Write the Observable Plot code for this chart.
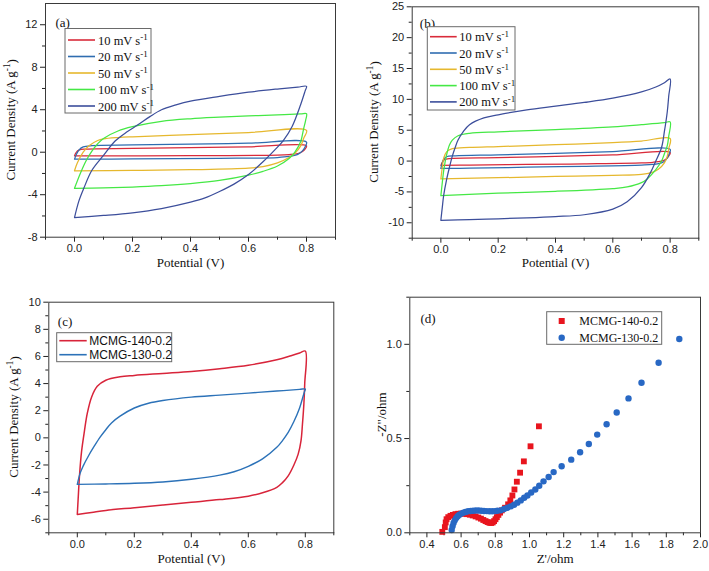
<!DOCTYPE html>
<html><head><meta charset="utf-8">
<script src="https://cdn.jsdelivr.net/npm/d3@7"></script>
<script src="https://cdn.jsdelivr.net/npm/@observablehq/plot@0.6"></script>
<style>
html,body{margin:0;padding:0;background:#fff;}
#fig{position:relative;width:709px;height:571px;overflow:hidden;background:#fff;}
#fig > svg{position:absolute;}
</style></head><body><div id="fig"></div>
<script>
// ---------- data (potential V, current density A/g) ----------
const a10F = [[0,-0.35],[0.005,-0.05],[0.015,0.2],[0.04,0.3],[0.2,0.36],[0.4,0.43],[0.6,0.51],[0.8,0.6]];
const a10R = [[0.8,0.6],[0.795,0.3],[0.785,0.05],[0.77,-0.12],[0.74,-0.22],[0.7,-0.27],[0.4,-0.32],[0,-0.35]];
const a20F = [[0,-0.66],[0.005,-0.3],[0.015,0.2],[0.03,0.5],[0.06,0.62],[0.2,0.68],[0.4,0.76],[0.6,0.85],[0.8,0.95]];
const a20R = [[0.8,0.95],[0.795,0.5],[0.785,0.1],[0.77,-0.2],[0.74,-0.4],[0.7,-0.5],[0.5,-0.58],[0.2,-0.63],[0,-0.66]];
const a50F = [[0,-1.75],[0.01,-1.0],[0.03,0.0],[0.05,0.6],[0.08,1.1],[0.1,1.25],[0.15,1.38],[0.2,1.45],[0.4,1.65],[0.6,1.85],[0.8,2.05]];
const a50R = [[0.8,2.05],[0.79,1.3],[0.78,0.6],[0.76,-0.1],[0.74,-0.5],[0.7,-1.0],[0.65,-1.35],[0.6,-1.5],[0.4,-1.65],[0.2,-1.72],[0,-1.75]];
const a100F = [[0,-3.4],[0.02,-2.0],[0.04,-0.8],[0.06,0.1],[0.08,0.8],[0.1,1.3],[0.15,2.0],[0.2,2.4],[0.3,2.9],[0.4,3.15],[0.5,3.3],[0.6,3.42],[0.7,3.52],[0.78,3.6],[0.8,3.62]];
const a100R = [[0.8,3.62],[0.797,3.0],[0.79,2.2],[0.78,1.0],[0.76,0.0],[0.74,-0.6],[0.7,-1.3],[0.65,-1.8],[0.6,-2.15],[0.5,-2.65],[0.4,-2.95],[0.3,-3.15],[0.2,-3.28],[0.1,-3.36],[0,-3.4]];
const a200F = [[0,-6.15],[0.015,-4.6],[0.032,-3.4],[0.06,-1.7],[0.1,-0.3],[0.14,1.05],[0.18,1.9],[0.22,2.6],[0.26,3.35],[0.3,4.0],[0.35,4.45],[0.4,4.8],[0.5,5.25],[0.6,5.65],[0.7,5.95],[0.77,6.13],[0.8,6.2]];
const a200R = [[0.8,6.2],[0.795,5.75],[0.78,4.5],[0.75,2.4],[0.72,1.1],[0.69,0.2],[0.65,-0.9],[0.6,-2.1],[0.55,-3.0],[0.5,-3.7],[0.45,-4.3],[0.4,-4.7],[0.3,-5.3],[0.2,-5.7],[0.1,-5.95],[0,-6.15]];

const b10F = [[0,-0.7],[0.005,-0.2],[0.012,0.2],[0.03,0.4],[0.2,0.55],[0.4,0.75],[0.6,1.0],[0.8,1.4]];
const b10R = [[0.8,1.4],[0.795,0.8],[0.785,0.3],[0.77,0.0],[0.74,-0.2],[0.7,-0.3],[0.5,-0.45],[0.3,-0.55],[0.1,-0.65],[0,-0.7]];
const b20F = [[0,-1.2],[0.005,-0.3],[0.01,0.3],[0.02,0.7],[0.05,0.85],[0.2,1.0],[0.4,1.25],[0.6,1.55],[0.8,1.9]];
const b20R = [[0.8,1.9],[0.795,1.0],[0.785,0.2],[0.77,-0.3],[0.74,-0.55],[0.7,-0.65],[0.5,-0.85],[0.3,-1.0],[0.1,-1.15],[0,-1.2]];
const b50F = [[0,-2.9],[0.005,-1.0],[0.01,0.5],[0.02,1.5],[0.04,2.0],[0.1,2.2],[0.2,2.35],[0.4,2.65],[0.6,3.0],[0.7,3.25],[0.8,3.65]];
const b50R = [[0.8,3.65],[0.795,2.0],[0.79,0.8],[0.78,-0.3],[0.76,-1.3],[0.74,-1.8],[0.7,-2.15],[0.6,-2.3],[0.4,-2.5],[0.2,-2.7],[0,-2.9]];
const b100F = [[0,-5.6],[0.005,-3.5],[0.01,-1.5],[0.02,1.0],[0.03,2.6],[0.04,3.4],[0.06,4.1],[0.1,4.5],[0.2,4.75],[0.4,5.1],[0.6,5.55],[0.7,5.9],[0.78,6.22],[0.8,6.35]];
const b100R = [[0.8,6.35],[0.795,4.0],[0.79,2.5],[0.78,1.2],[0.77,0.0],[0.75,-1.4],[0.72,-2.9],[0.7,-3.5],[0.65,-4.2],[0.6,-4.45],[0.4,-4.9],[0.2,-5.2],[0,-5.6]];
const b200F = [[0,-9.6],[0.005,-7.5],[0.01,-5.5],[0.02,-3.0],[0.03,-1.0],[0.04,0.8],[0.05,2.2],[0.06,3.4],[0.08,4.9],[0.1,5.9],[0.15,7.0],[0.2,7.5],[0.3,8.3],[0.4,8.9],[0.5,9.5],[0.6,10.2],[0.7,11.2],[0.75,12.0],[0.78,12.7],[0.8,13.3]];
const b200R = [[0.8,13.3],[0.795,10.5],[0.79,8.0],[0.78,4.8],[0.77,2.2],[0.75,0.0],[0.73,-2.0],[0.7,-4.3],[0.65,-6.6],[0.6,-7.8],[0.5,-8.7],[0.4,-9.0],[0.3,-9.2],[0.2,-9.35],[0.1,-9.5],[0,-9.6]];

const c140F = [[0,-5.65],[0.003,-4.5],[0.008,-2.7],[0.015,-1.0],[0.025,0.5],[0.035,1.8],[0.05,3.0],[0.07,3.8],[0.1,4.25],[0.15,4.5],[0.2,4.6],[0.3,4.75],[0.4,4.9],[0.5,5.1],[0.6,5.35],[0.7,5.75],[0.75,6.05],[0.78,6.25],[0.8,6.4]];
const c140R = [[0.8,6.4],[0.798,4.0],[0.795,2.5],[0.79,1.0],[0.785,-0.2],[0.775,-1.2],[0.76,-2.0],[0.74,-2.8],[0.72,-3.3],[0.7,-3.65],[0.65,-4.05],[0.6,-4.3],[0.5,-4.55],[0.4,-4.75],[0.3,-4.95],[0.2,-5.15],[0.1,-5.35],[0.05,-5.5],[0,-5.65]];
const c130F = [[0,-3.43],[0.01,-2.6],[0.02,-2.1],[0.04,-1.3],[0.06,-0.6],[0.08,0.05],[0.1,0.6],[0.12,1.1],[0.15,1.6],[0.2,2.2],[0.25,2.55],[0.3,2.75],[0.4,3.0],[0.5,3.15],[0.6,3.3],[0.7,3.45],[0.78,3.57],[0.8,3.6]];
const c130R = [[0.8,3.6],[0.797,3.4],[0.79,2.9],[0.78,2.2],[0.76,1.2],[0.74,0.4],[0.72,-0.2],[0.7,-0.7],[0.65,-1.55],[0.6,-2.1],[0.55,-2.5],[0.5,-2.75],[0.4,-3.05],[0.3,-3.25],[0.2,-3.35],[0.1,-3.4],[0,-3.43]];

// Nyquist (Z', -Z'')
const d140 = [[0.49,0.005],[0.505,0.03],[0.51,0.055],[0.515,0.072],[0.525,0.083],[0.538,0.09],[0.552,0.095],[0.567,0.099],[0.583,0.101],[0.6,0.102],[0.617,0.101],[0.634,0.099],[0.651,0.096],[0.668,0.092],[0.685,0.087],[0.701,0.081],[0.716,0.075],[0.73,0.068],[0.743,0.062],[0.755,0.057],[0.766,0.053],[0.776,0.052],[0.785,0.055],[0.793,0.062],[0.801,0.072],[0.809,0.083],[0.818,0.095],[0.828,0.107],[0.838,0.119],[0.857,0.133],[0.875,0.151],[0.888,0.172],[0.9,0.198],[0.912,0.23],[0.926,0.271],[0.945,0.319],[0.967,0.379],[1.006,0.459],[1.055,0.565]];
const d130 = [[0.545,0.015],[0.55,0.035],[0.556,0.052],[0.563,0.066],[0.571,0.078],[0.58,0.088],[0.59,0.096],[0.601,0.102],[0.613,0.107],[0.626,0.111],[0.64,0.114],[0.655,0.116],[0.67,0.117],[0.686,0.118],[0.702,0.118],[0.718,0.117],[0.734,0.116],[0.75,0.115],[0.766,0.114],[0.782,0.114],[0.797,0.115],[0.812,0.117],[0.832,0.119],[0.851,0.126],[0.871,0.133],[0.89,0.14],[0.91,0.149],[0.929,0.16],[0.949,0.172],[0.969,0.186],[0.988,0.198],[1.01,0.214],[1.034,0.23],[1.057,0.25],[1.082,0.273],[1.112,0.296],[1.141,0.322],[1.188,0.353],[1.244,0.388],[1.296,0.427],[1.347,0.471],[1.396,0.521],[1.451,0.576],[1.51,0.638],[1.579,0.713],[1.655,0.796],[1.755,0.902],[1.876,1.028]];

const rateLabels = ["10 mV s", "20 mV s", "50 mV s", "100 mV s", "200 mV s"];
const rateColors = ["#d92b3a", "#2f6db0", "#e6b82e", "#45e845", "#3c4e9b"];
const sampleLabels = ["MCMG-140-0.2", "MCMG-130-0.2"];
const cvColors = ["#d8243a", "#2c72b8"];
const eisColors = ["#e8151e", "#2868c4"];

const cvXTicks = [0, 0.2, 0.4, 0.6, 0.8];
const cvXMinor = [-0.1, 0.1, 0.3, 0.5, 0.7, 0.9];
const aYTicks = [-8, -4, 0, 4, 8, 12];
const aYMinor = [-6, -2, 2, 6, 10];
const bYTicks = [-10, -5, 0, 5, 10, 15, 20, 25];
const bYMinor = [-12.5, -7.5, -2.5, 2.5, 7.5, 12.5, 17.5, 22.5];
const cYTicks = [-6, -4, -2, 0, 2, 4, 6, 8, 10];
const cYMinor = [-7, -5, -3, -1, 1, 3, 5, 7, 9];
const dXTicks = [0.4, 0.6, 0.8, 1.0, 1.2, 1.4, 1.6, 1.8, 2.0];
const dXMinor = [0.3, 0.5, 0.7, 0.9, 1.1, 1.3, 1.5, 1.7, 1.9];
const dYTicks = [0, 0.5, 1.0];
const dYMinor = [0.25, 0.75, 1.25];

// ---------- helpers ----------
const SERIF = "'Liberation Serif','Times New Roman',serif";
const SANS = "'Liberation Sans',Arial,sans-serif";
const loop = (f, r) => f.concat(r.slice(1)).map(([x, y]) => ({x, y}));
const pts = (arr) => arr.map(([x, y]) => ({x, y}));
const fmt1 = d => d.toFixed(1);
const fmtI = d => String(d);

function legendMark(spec) {
  return (index, scales, values, dims) => {
    const g = d3.create("svg:g").attr("text-anchor", "start");
    const x0 = dims.marginLeft + spec.dx, y0 = dims.marginTop + spec.dy;
    g.append("rect").attr("x", x0).attr("y", y0).attr("width", spec.w).attr("height", spec.h)
      .attr("fill", "#fff").attr("stroke", "#6a6a6a").attr("stroke-width", 1);
    spec.items.forEach((it, i) => {
      const cy = y0 + spec.first + i * spec.rowH;
      if (it.symbol === "square") {
        g.append("rect").attr("x", x0 + spec.mx - 3).attr("y", cy - 3).attr("width", 6).attr("height", 6).attr("fill", it.color);
      } else if (it.symbol === "circle") {
        g.append("circle").attr("cx", x0 + spec.mx).attr("cy", cy).attr("r", 3.2).attr("fill", it.color);
      } else {
        g.append("line").attr("x1", x0 + spec.l1).attr("x2", x0 + spec.l2).attr("y1", cy).attr("y2", cy)
          .attr("stroke", it.color).attr("stroke-width", 1.6);
      }
      const t = g.append("text").attr("x", x0 + spec.tx).attr("y", cy).attr("dy", "0.36em")
        .attr("text-anchor", "start")
        .attr("font-family", spec.font).attr("font-size", spec.size).attr("fill", "#111").text(it.label);
      if (it.sup) t.append("tspan").attr("dy", "-0.45em").attr("font-size", "0.72em").text(it.sup);
    });
    return g.node();
  };
}

function yLabelMark(main, sup, tail, dx) {
  return (index, scales, values, dims) => {
    const cx = dims.marginLeft + dx;
    const cy = dims.marginTop + (dims.height - dims.marginTop - dims.marginBottom) / 2;
    const t = d3.create("svg:text").attr("transform", `translate(${cx},${cy}) rotate(-90)`)
      .attr("text-anchor", "middle").attr("dy", "0.36em")
      .attr("font-family", SERIF).attr("font-size", 13).attr("fill", "#111");
    t.append("tspan").text(main);
    if (sup) {
      t.append("tspan").attr("dy", "-0.45em").attr("font-size", "0.72em").text(sup);
      t.append("tspan").attr("dy", "0.45em").text(tail);
    }
    return t.node();
  };
}

function panel(o) {
  const marks = [
    Plot.axisX({ticks: o.xTicks, tickFormat: o.xFmt, tickSize: 5, tickPadding: 2, label: null}),
    Plot.axisX({ticks: o.xMinor, tickFormat: () => "", tickSize: 3, label: null}),
    Plot.axisY({ticks: o.yTicks, tickFormat: o.yFmt, tickSize: 5, tickPadding: 3, label: null}),
    Plot.axisY({ticks: o.yMinor, tickFormat: () => "", tickSize: 3, label: null}),
    ...o.marks,
    Plot.frame({stroke: "#3a3a3a", strokeWidth: 1}),
    Plot.text([o.letter], {text: d => d, frameAnchor: "top-left", dx: o.letterDx, dy: o.letterDy, textAnchor: "start", fontFamily: SERIF, fontSize: 13, fill: "#111"}),
    Plot.text([o.xLabel], {text: d => d, frameAnchor: "bottom", dy: o.xLabelDy, fontFamily: SERIF, fontSize: 13, fill: "#111"}),
    yLabelMark(o.yLabel[0], o.yLabel[1], o.yLabel[2], o.yLabelDx),
    legendMark(o.legend)
  ];
  const svg = Plot.plot({
    width: o.width, height: o.height,
    marginLeft: o.m[0], marginRight: o.m[1], marginTop: o.m[2], marginBottom: o.m[3],
    x: {domain: o.xDomain},
    y: {domain: o.yDomain},
    style: {fontFamily: SANS, fontSize: "11px", color: "#222", background: "transparent", overflow: "visible"},
    marks
  });
  svg.style.left = o.left + "px";
  svg.style.top = o.top + "px";
  document.getElementById("fig").appendChild(svg);
}

const cvLine = (data, color, w) => Plot.line(data, {x: "x", y: "y", stroke: color, strokeWidth: w || 1.25, curve: "catmull-rom"});

// ---------- panel (a) ----------
const aLoops = [loop(a10F, a10R), loop(a20F, a20R), loop(a50F, a50R), loop(a100F, a100R), loop(a200F, a200R)];
panel({
  left: 0, top: 0, width: 350, height: 290, m: [45, 15, 3, 53.3],
  xDomain: [-0.1, 0.9], yDomain: [-8, 14],
  xTicks: cvXTicks, xMinor: cvXMinor, yTicks: aYTicks, yMinor: aYMinor, xFmt: fmt1, yFmt: fmtI,
  marks: aLoops.map((l, i) => cvLine(l, rateColors[i])),
  letter: "(a)", letterDx: 10, letterDy: 14,
  xLabel: "Potential (V)", xLabelDy: 30,
  yLabel: ["Current Density (A g", "-1", ")"], yLabelDx: -35,
  legend: {dx: 20, dy: 25.5, w: 86, h: 84.5, first: 11.5, rowH: 16.5, l1: 3, l2: 30, tx: 33, font: SERIF, size: 12.5,
    items: rateLabels.map((l, i) => ({label: l, sup: "-1", color: rateColors[i]}))}
});

// ---------- panel (b) ----------
const bLoops = [loop(b10F, b10R), loop(b20F, b20R), loop(b50F, b50R), loop(b100F, b100R), loop(b200F, b200R)];
panel({
  left: 350, top: 0, width: 359, height: 290, m: [61.7, 10.7, 6.3, 52.3],
  xDomain: [-0.1, 0.9], yDomain: [-12.5, 25],
  xTicks: cvXTicks, xMinor: cvXMinor, yTicks: bYTicks, yMinor: bYMinor, xFmt: fmt1, yFmt: fmtI,
  marks: bLoops.map((l, i) => cvLine(l, rateColors[i])),
  letter: "(b)", letterDx: 7.6, letterDy: 12,
  xLabel: "Potential (V)", xLabelDy: 29,
  yLabel: ["Current Density (A g", "-1", ")"], yLabelDx: -38.7,
  legend: {dx: 15.6, dy: 20.4, w: 87.7, h: 83.3, first: 10, rowH: 16.3, l1: 2.7, l2: 29.4, tx: 32, font: SERIF, size: 12.5,
    items: rateLabels.map((l, i) => ({label: l, sup: "-1", color: rateColors[i]}))}
});

// ---------- panel (c) ----------
panel({
  left: 0, top: 290, width: 360, height: 281, m: [48.3, 26.7, 11.7, 38.7],
  xDomain: [-0.1, 0.9], yDomain: [-7, 10],
  xTicks: cvXTicks, xMinor: cvXMinor, yTicks: cYTicks, yMinor: cYMinor, xFmt: fmt1, yFmt: fmtI,
  marks: [cvLine(loop(c140F, c140R), cvColors[0], 1.5), cvLine(loop(c130F, c130R), cvColors[1], 1.4)],
  letter: "(c)", letterDx: 9, letterDy: 15,
  xLabel: "Potential (V)", xLabelDy: 30.4,
  yLabel: ["Current Density (A g", "-1", ")"], yLabelDx: -35.3,
  legend: {dx: 8.4, dy: 31, w: 115, h: 29, first: 8, rowH: 14, l1: 2.6, l2: 30, tx: 32.6, font: SANS, size: 12,
    items: sampleLabels.map((l, i) => ({label: l, color: cvColors[i]}))}
});

// ---------- panel (d) ----------
panel({
  left: 350, top: 290, width: 359, height: 281, m: [59.3, 9, 6.7, 38.7],
  xDomain: [0.3, 2.0], yDomain: [0, 1.25],
  xTicks: dXTicks, xMinor: dXMinor, yTicks: dYTicks, yMinor: dYMinor, xFmt: fmt1, yFmt: fmt1,
  marks: [
    Plot.dot(pts(d140), {x: "x", y: "y", symbol: "square", r: 3.3, fill: eisColors[0], stroke: "none"}),
    Plot.dot(pts(d130), {x: "x", y: "y", symbol: "circle", r: 3.2, fill: eisColors[1], stroke: "none"})
  ],
  letter: "(d)", letterDx: 10.7, letterDy: 16.6,
  xLabel: "Z'/ohm", xLabelDy: 30.4,
  yLabel: ["-Z\"/ohm"], yLabelDx: -27.6,
  legend: {dx: 137.4, dy: 15, w: 115, h: 32.6, first: 9.3, rowH: 16.7, mx: 15, tx: 32.6, font: SERIF, size: 12,
    items: sampleLabels.map((l, i) => ({label: l, color: eisColors[i], symbol: i === 0 ? "square" : "circle"}))}
});
</script>
</body></html>
